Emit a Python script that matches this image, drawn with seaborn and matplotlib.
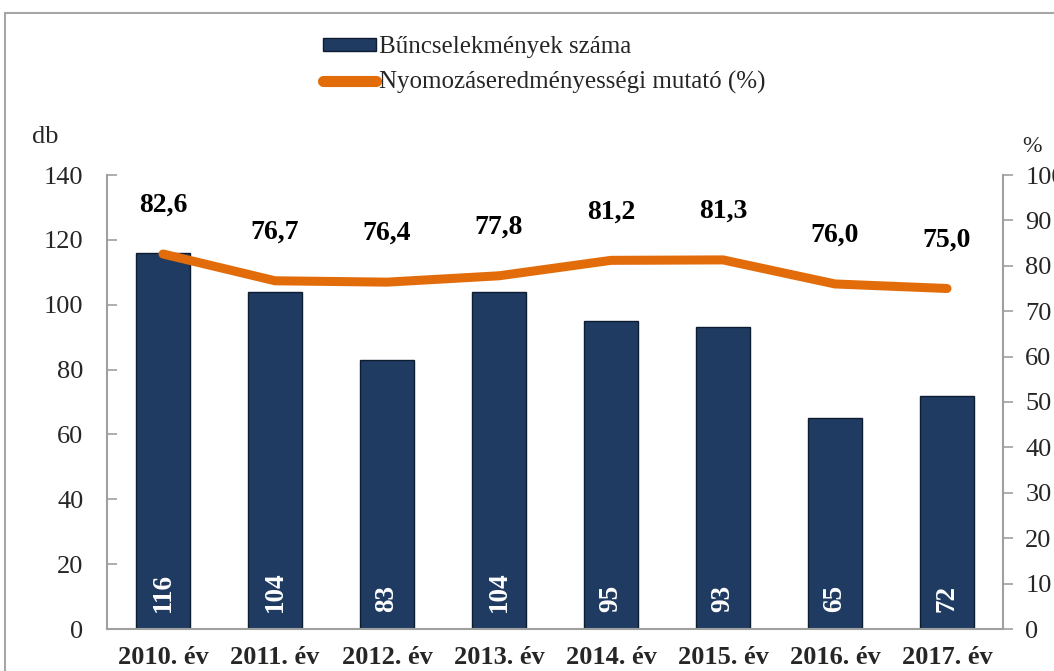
import numpy as np
import pandas as pd
import matplotlib
matplotlib.use("Agg")
import matplotlib.pyplot as plt
from matplotlib.patches import Rectangle
from matplotlib.lines import Line2D
import seaborn as sns

years = ["2010. év", "2011. év", "2012. év", "2013. év", "2014. év", "2015. év", "2016. év", "2017. év"]
crimes = [116, 104, 83, 104, 95, 93, 65, 72]
rate = [82.6, 76.7, 76.4, 77.8, 81.2, 81.3, 76.0, 75.0]
rate_labels = ["82,6", "76,7", "76,4", "77,8", "81,2", "81,3", "76,0", "75,0"]
left_ticks = [0, 20, 40, 60, 80, 100, 120, 140]
right_ticks = [0, 10, 20, 30, 40, 50, 60, 70, 80, 90, 100]

sns.set_theme(style="white")
plt.rcParams['font.family'] = ['Liberation Serif', 'DejaVu Serif']

W, H = 1054, 671
fig = plt.figure(figsize=(W / 100, H / 100), dpi=100)
ax = fig.add_axes([107 / W, (H - 629) / H, (1003 - 107) / W, (629 - 175) / H])

df = pd.DataFrame({"year": years, "crimes": crimes, "pos": np.arange(len(years)), "rate": rate})

BAR = "#1F3B62"
sns.barplot(data=df, x="year", y="crimes", color=BAR, width=0.49, saturation=1,
            edgecolor="#0E1C30", linewidth=1.0, ax=ax)
ax.set_xlim(-0.5, len(years) - 0.5)
ax.set_ylim(0, 140)
ax.set_yticks(left_ticks)
ax.set_xlabel("")
ax.set_ylabel("")
ax.tick_params(axis="y", direction="in", length=7, width=1.2, color="#A0A0A0",
               labelsize=19, pad=17, left=True)
ax.tick_params(axis="x", length=0, labelsize=19, pad=12)
for lbl in ax.get_xticklabels():
    lbl.set_fontweight("bold")
for s in ["top", "right"]:
    ax.spines[s].set_visible(False)
for s in ["left", "bottom"]:
    ax.spines[s].set_color("#A0A0A0")
    ax.spines[s].set_linewidth(1.5)

# bar value labels
for i, v in enumerate(crimes):
    ax.annotate(str(v), xy=(i, 0), xytext=(0, 12), textcoords="offset points",
                rotation=90, ha="center", va="bottom", color="white",
                fontsize=19.5, fontweight="bold")

ax2 = ax.twinx()
ORANGE = "#E36C0A"
sns.lineplot(data=df, x="pos", y="rate", color=ORANGE, linewidth=6.5, ax=ax2,
             solid_capstyle="round")
ax2.set_ylim(0, 100)
ax2.set_yticks(right_ticks)
ax2.set_xlim(-0.5, len(years) - 0.5)
ax2.set_xlabel("")
ax2.set_ylabel("")
ax2.tick_params(axis="y", direction="out", length=7, width=1.2, color="#A0A0A0",
                labelsize=19, pad=9, right=True)
for s in ["top", "left", "bottom"]:
    ax2.spines[s].set_visible(False)
ax2.spines["right"].set_color("#A0A0A0")
ax2.spines["right"].set_linewidth(1.5)

for i, (v, t) in enumerate(zip(rate, rate_labels)):
    ax2.annotate(t, xy=(i, v), xytext=(0, 35), textcoords="offset points",
                 ha="center", va="center", fontsize=20, fontweight="bold", color="black")

fig.text(45 / W, 1 - 137 / H, "db", ha="center", va="center", fontsize=19)
fig.text(1032 / W, 1 - 146 / H, "%", ha="center", va="center", fontsize=17)

handles = [Rectangle((0, 0), 1, 1, facecolor=BAR, edgecolor="#0E1C30"),
           Line2D([0], [0], color=ORANGE, linewidth=8, solid_capstyle="round")]
fig.legend(handles, ["Bűncselekmények száma", "Nyomozáseredményességi mutató (%)"],
           loc="center left", bbox_to_anchor=(323 / W, 1 - 65 / H), frameon=False,
           fontsize=18, handlelength=2.1, handleheight=0.45, handletextpad=0.15,
           labelspacing=0.5, borderaxespad=0, borderpad=0)

fig.patches.append(Rectangle((5 / W, -0.1), 2, 1 - 13 / H + 0.1, transform=fig.transFigure,
                             fill=False, edgecolor="#A6A6A6", linewidth=1.5))

fig.savefig("out.png", dpi=100)
